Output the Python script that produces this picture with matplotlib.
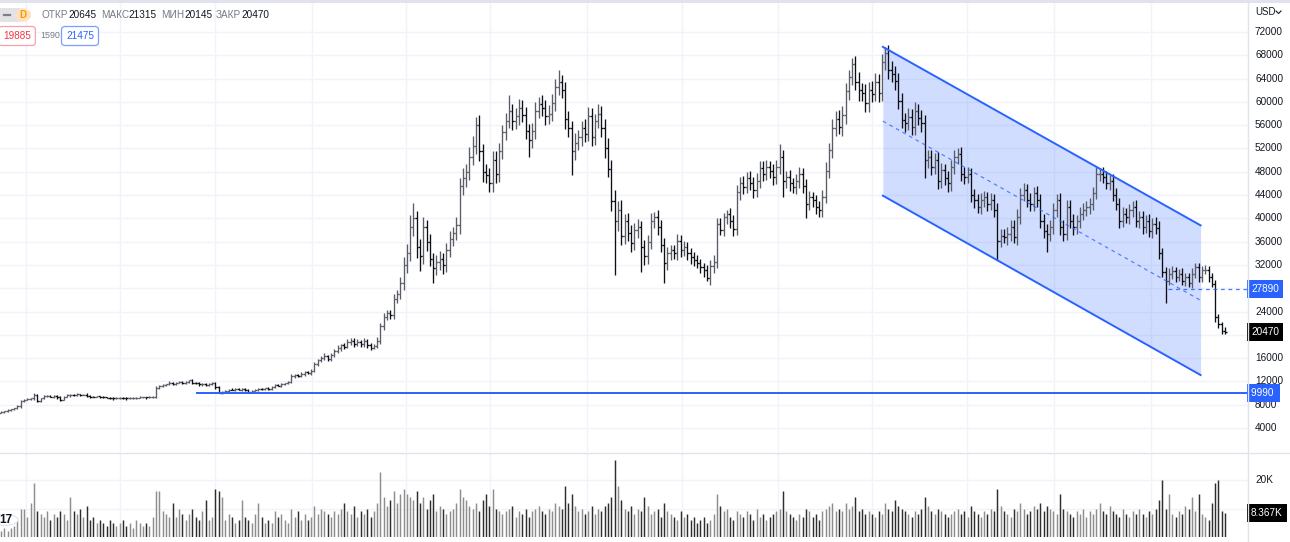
import numpy as np
import matplotlib.pyplot as plt
import matplotlib.transforms as mtransforms
from matplotlib.patches import FancyBboxPatch, Circle, Rectangle
from matplotlib.lines import Line2D

plt.rcParams['font.family'] = ['Liberation Sans', 'DejaVu Sans']

# daily closes (USD), oldest first
closes = [
    6750, 6900, 7050, 7200, 7400, 7700, 8700, 8900, 8950, 9100,
    9700, 8600, 9100, 9450, 9550, 9400, 9500, 9250, 8900, 9400,
    9600, 9700, 9650, 9800, 9700, 9750, 9500, 9400, 9350, 9450,
    9300, 9250, 9200, 9150, 9100, 9150, 9200, 9150, 9100, 9150,
    9200, 9200, 9250, 9300, 9250, 9300, 9350, 10900,
    11200, 11400, 11500, 11700, 11600, 11750, 11900, 11700, 11900, 12200,
    11800, 11700, 11500, 11600, 11400, 11550, 11650, 11000, 10100, 10250,
    10400, 10600, 10550, 10700, 10600, 10750, 10500, 10200, 10400, 10550,
    10700, 10650, 10800, 10700, 11000, 11400, 11300, 11500, 11700, 11900,
    12900, 13100, 13000, 13300, 13600, 13400, 13800, 15000, 15600, 16000,
    16300, 15900,
    16500, 17200, 17700, 18200, 18000, 18700, 19000, 18500, 18800, 18400,
    18900, 18300, 17800, 18100, 19000, 21500, 23000, 23700, 23400, 26200,
    27000, 28900,
    32000, 34000, 38500, 40000, 35000, 33500, 38500, 36000, 33000, 31500,
    32500, 33000, 32000, 34500, 36500, 37500, 38800, 45500, 47000, 48000,
    50500, 52500, 56000, 51500, 48000, 47500, 46000, 50000, 47700, 51500,
    54800, 56800, 58500, 56800, 57500, 59000, 57800, 55000, 53500, 55000,
    58500, 59700, 59000, 57500, 58000, 59800, 62500, 63500, 62000, 57000,
    55500, 51500, 53000, 54000, 55500, 54500, 57500, 54000, 56800, 58000,
    55500, 52000, 48500, 43000, 39500, 41500, 37000, 39500, 37500, 35700,
    38000, 38500, 35000, 33500, 36000, 39500, 40300, 38500, 35500, 32300,
    34000, 34500, 34000, 36200, 34500, 35100, 34000, 33400, 32800, 32300,
    31700, 31100, 29800, 31800, 32500, 39000, 38000, 40200, 40800, 39600,
    38200, 44500, 46000, 45400, 47000, 46000, 44800, 46500, 48700, 47700,
    48800, 48200, 47100, 48800, 50500, 46500, 47100, 46000, 45400, 46500,
    47700, 45500, 42500, 43600, 43100, 42000, 41400, 43700, 48200, 51700,
    55500, 57000, 55700, 57800, 61800, 64200, 66500, 63500, 62000, 61500,
    59800, 62000, 61400, 63500, 61500, 66800, 68400, 65500, 64800, 63600,
    60200, 56900, 56400, 57400, 55700, 58500, 57300, 56300, 50000, 50500,
    48800, 50000, 46500, 48300, 47000, 46000, 48800, 50500, 51000, 47700,
    47100, 47700, 44000, 43100, 42000, 43100, 43600, 42500, 43100, 41400,
    36200, 37000, 36800, 37400, 38500, 36800, 40200, 44000, 44800, 43100,
    42500, 44300, 43100, 39600, 37900, 37400, 38500, 41400, 43100, 38500,
    37400, 42000, 39600, 38500, 39600, 40800, 41400, 41900, 42500, 44300,
    47700, 47700, 47100, 46000, 46500, 44000, 42500, 39600, 40800, 40200,
    41400, 41900, 39600, 40200, 38500, 39600, 37900, 39100, 38300, 34000,
    30800, 29300, 30500, 31000, 29900, 30500, 29300, 29900, 28900, 30500,
    31600, 29900, 31100, 31100, 29900, 28800, 23000, 21800, 20645, 20470,
]
first_open = 6600

# upper / lower shadow beyond the bar body, hundreds of USD
wick_hi = [
    1, 1, 2, 1, 1, 2, 2, 1, 2, 1, 4, 2, 1, 2, 1, 2, 1, 1, 2, 1,
    2, 1, 1, 2, 1, 1, 2, 1, 1, 1, 1, 2, 1, 1, 1, 1, 1, 2, 1, 1,
    1, 1, 2, 1, 1, 2, 1, 3,
    2, 2, 1, 3, 2, 1, 2, 2, 1, 1, 2, 1, 2, 1, 2, 1, 2, 2, 3, 1,
    2, 1, 2, 1, 2, 1, 2, 2, 1, 2, 1, 2, 1, 2, 2, 1, 2, 2, 1, 2,
    3, 2, 2, 3, 2, 2, 3, 4, 3, 3, 5, 3,
    4, 4, 5, 3, 4, 6, 5, 4, 5, 4, 5, 4, 3, 4, 6, 5, 8, 6, 5, 9,
    7, 10,
    14, 16, 20, 26, 12, 15, 18, 12, 14, 11, 12, 14, 10, 12, 13, 11, 14, 15, 16, 14,
    18, 16, 14, 18, 12, 13, 12, 15, 16, 14, 12, 13, 26, 12, 14, 15, 14, 13, 12, 13,
    14, 12, 15, 13, 14, 16, 14, 19, 12, 15,
    14, 13, 16, 12, 13, 15, 16, 14, 12, 17, 13, 15, 18, 16, 18, 14, 16, 12, 14, 13,
    12, 14, 11, 13, 12, 14, 8, 12, 13, 11, 10, 9, 10, 12, 9, 10, 8, 9, 8, 9,
    8, 7, 9, 10, 12, 10, 11, 7, 7, 9,
    10, 12, 11, 12, 10, 12, 11, 13, 12, 11, 12, 10, 11, 12, 23, 13, 11, 12, 10, 11,
    12, 10, 12, 11, 10, 9, 10, 12, 14, 13, 15, 14, 16, 15, 14, 12, 10, 14, 16, 13,
    15, 14, 16, 14, 13, 15, 10, 14, 16, 14,
    13, 14, 12, 15, 13, 14, 12, 13, 14, 12, 13, 12, 14, 12, 11, 12, 13, 12, 10, 12,
    11, 12, 10, 11, 10, 12, 11, 10, 12, 11, 13, 12, 11, 12, 13, 12, 14, 13, 12, 11,
    12, 11, 12, 10, 11, 12, 13, 12, 11, 13,
    12, 11, 12, 11, 10, 11, 12, 11, 10, 11, 12, 9, 12, 11, 10, 11, 12, 10, 11, 10,
    11, 10, 12, 10, 11, 10, 11, 10, 11, 12, 9, 8, 9, 8, 7, 8, 9, 7, 8, 9,
    7, 8, 7, 9, 8, 7, 6, 5, 4, 7,
]
wick_lo = [
    1, 1, 1, 2, 1, 1, 3, 2, 1, 2, 2, 2, 2, 1, 2, 1, 2, 2, 2, 1,
    1, 2, 1, 1, 2, 1, 1, 2, 1, 1, 2, 1, 1, 1, 2, 1, 1, 1, 2, 1,
    1, 2, 1, 1, 2, 1, 1, 2,
    2, 1, 2, 1, 2, 2, 1, 2, 1, 2, 2, 1, 2, 2, 1, 2, 1, 3, 1, 2,
    1, 2, 1, 2, 1, 2, 2, 1, 2, 1, 2, 1, 2, 1, 2, 2, 1, 2, 1, 2,
    2, 3, 2, 2, 3, 2, 3, 2, 3, 3, 3, 4,
    4, 3, 4, 5, 4, 3, 5, 6, 4, 5, 4, 5, 4, 3, 4, 5, 6, 5, 7, 6,
    8, 9,
    12, 14, 13, 15, 18, 25, 14, 16, 12, 26, 12, 14, 15, 12, 11, 13, 12, 14, 15, 16,
    14, 13, 15, 16, 17, 15, 15, 14, 16, 15, 13, 14, 12, 16, 14, 15, 13, 14, 30, 14,
    13, 12, 14, 15, 13, 12, 13, 14, 13, 16,
    15, 41, 14, 13, 15, 14, 13, 16, 14, 13, 15, 16, 14, 18, 93, 16, 15, 14, 13, 14,
    12, 13, 42, 15, 14, 13, 12, 14, 13, 34, 12, 11, 10, 12, 11, 10, 11, 12, 10, 9,
    10, 11, 5, 12, 11, 10, 9, 10, 11, 12,
    12, 11, 13, 12, 11, 12, 13, 11, 12, 13, 11, 12, 13, 12, 11, 28, 12, 13, 11, 12,
    13, 12, 25, 11, 12, 13, 11, 12, 10, 12, 13, 14, 12, 15, 16, 14, 13, 15, 18, 14,
    15, 16, 14, 13, 15, 14, 13, 15, 14, 16,
    14, 13, 15, 12, 14, 13, 12, 14, 30, 13, 13, 12, 14, 13, 12, 14, 13, 12, 11, 13,
    12, 11, 12, 13, 11, 12, 11, 12, 10, 12, 34, 12, 11, 13, 12, 11, 13, 12, 11, 12,
    13, 12, 11, 12, 13, 32, 12, 11, 12, 13,
    12, 11, 12, 13, 11, 12, 11, 10, 12, 11, 10, 12, 11, 10, 12, 11, 10, 12, 11, 10,
    12, 11, 10, 12, 11, 10, 11, 12, 10, 9, 8, 39, 8, 9, 8, 7, 8, 9, 7, 8,
    7, 8, 9, 7, 8, 6, 8, 6, 5, 3,
]
# volume, thousands of contracts
volumes = [
    2, 3, 2, 3, 4, 6, 10, 10, 7, 12, 19, 9, 8, 7, 9, 6, 8, 7, 9, 8,
    6, 14, 9, 8, 10, 7, 11, 6, 7, 5, 6, 5, 4, 6, 5, 4, 5, 6, 4, 5,
    3, 6, 5, 4, 5, 4, 7, 16,
    16, 9, 8, 7, 12, 7, 10, 8, 6, 8, 10, 7, 6, 9, 13, 6, 7, 17, 16, 14,
    6, 8, 7, 5, 6, 13, 7, 6, 5, 8, 12, 7, 5, 6, 5, 9, 7, 8, 6, 5,
    10, 7, 9, 6, 8, 6, 7, 11, 8, 10, 9, 8,
    7, 9, 8, 10, 12, 9, 8, 11, 7, 9, 8, 10, 7, 9, 12, 23, 14, 11, 13, 16,
    12, 15,
    17, 15, 14, 13, 16, 12, 14, 10, 13, 15, 9, 11, 10, 8, 9, 10, 12, 17, 14, 13,
    11, 10, 12, 9, 13, 15, 11, 17, 10, 9, 8, 9, 10, 11, 7, 9, 8, 10, 7, 9,
    10, 11, 9, 8, 10, 9, 12, 11, 10, 18,
    12, 15, 11, 9, 10, 8, 9, 11, 8, 10, 9, 11, 12, 14, 27, 18, 13, 10, 9, 11,
    8, 10, 9, 14, 11, 8, 9, 10, 7, 12, 9, 8, 7, 6, 9, 7, 8, 6, 7, 5,
    6, 7, 5, 6, 8, 15, 11, 9, 10, 7,
    6, 9, 8, 7, 9, 8, 6, 10, 7, 8, 6, 7, 8, 9, 10, 16, 9, 8, 7, 6,
    8, 7, 10, 9, 7, 8, 6, 9, 10, 11, 12, 9, 10, 9, 12, 10, 11, 14, 9, 10,
    8, 9, 8, 7, 9, 8, 12, 10, 9, 13,
    11, 10, 9, 8, 7, 9, 8, 10, 14, 11, 9, 8, 10, 9, 8, 7, 8, 9, 10, 8,
    9, 7, 11, 9, 8, 7, 9, 8, 10, 9, 17, 11, 9, 8, 7, 10, 9, 12, 10, 8,
    9, 11, 10, 12, 9, 11, 10, 9, 8, 15,
    10, 9, 8, 7, 9, 8, 10, 7, 9, 8, 10, 12, 9, 8, 11, 9, 8, 7, 10, 8,
    7, 9, 8, 10, 8, 7, 9, 8, 10, 13, 20, 10, 15, 8, 7, 9, 8, 11, 10, 14,
    9, 15, 8, 7, 6, 12, 19, 20, 9, 8.367,
]

price_ticks = list(range(4000, 76000, 4000))
hidden_ticks = [20000, 28000]          # covered by the price tags
vol_labels = [20]                       # 10K sits under the volume tag
month_bars = [7.5, 36, 64.8, 94.2, 122.7, 148.2, 177.6, 206.4, 235.5, 263.9, 292.7, 319.1, 348.5]

channel_bars = [267.3, 363.6]
channel_top = [69450, 38800]
channel_mid = [56700, 25930]
channel_bot = [43900, 13100]
support_level, support_from = 9990, 59.4
prev_close, prev_close_from = 27890, 353.6

legend_labels = ['ОТКР', 'МАКС', 'МИН', 'ЗАКР']
legend_values = ['20645', '21315', '20145', '20470']

DARK, GRAY, BLUE, RED = '#131722', '#787b86', '#2962ff', '#f23645'
GRID = '#f0f3fa'

n = len(closes)
idx = np.arange(n)
c = np.array(closes, float)
o = np.array([first_open] + closes[:-1], float)
hi = np.maximum(o, c) + np.array(wick_hi) * 100
lo = np.minimum(o, c) - np.array(wick_lo) * 100
down = c < o

W, H = 1290, 542
AX_R = 1248
fig = plt.figure(figsize=(W / 100, H / 100), dpi=100)


def rect(x0, y0, x1, y1):
    return [x0 / W, 1 - y1 / H, (x1 - x0) / W, (y1 - y0) / H]


ax = fig.add_axes(rect(0, 0, AX_R, 452))
axv = fig.add_axes(rect(0, 453, AX_R, 537))
step = 1224 / (n - 1)
xlim = (-1 / step, (AX_R - 1) / step)
for a in (ax, axv):
    a.set_xlim(*xlim)
    a.set_xticks([])
    a.set_yticks([])
    for s in a.spines.values():
        s.set_visible(False)
    a.patch.set_alpha(0)
    for m in month_bars:
        a.axvline(m, color=GRID, lw=1, zorder=0)

ax.set_ylim(-114, 77494)
axv.set_ylim(0, 29.5)
for p in price_ticks:
    ax.axhline(p, color=GRID, lw=1, zorder=0)
for v in (10, 20):
    axv.axhline(v, color=GRID, lw=1, zorder=0)

# OHLC bars
cols = np.where(down, '#0c0e14', '#5a5d66')
ax.vlines(idx, lo, hi, colors=cols, lw=0.95, zorder=3)
ax.hlines(o, idx - 0.5, idx, colors=cols, lw=0.95, zorder=3)
ax.hlines(c, idx, idx + 0.5, colors=cols, lw=0.95, zorder=3)

# volume
vcols = np.where(down, '#2e2e2e', '#8e8e8e')
axv.vlines(idx, 0, volumes, colors=vcols, lw=1.05)

# regression channel
ax.fill_between(channel_bars, channel_bot, channel_top, color=BLUE, alpha=0.21, lw=0, zorder=1)
ax.plot(channel_bars, channel_top, color=BLUE, lw=1.4, zorder=4)
ax.plot(channel_bars, channel_bot, color=BLUE, lw=1.4, zorder=4)
ax.plot(channel_bars, channel_mid, color=BLUE, lw=0.9, ls=(0, (3, 3)), alpha=0.75, zorder=4)

# horizontal levels
ax.plot([support_from, xlim[1]], [support_level] * 2, color=BLUE, lw=1.4, zorder=4)
ax.plot([prev_close_from, xlim[1]], [prev_close] * 2, color=BLUE, lw=0.9,
        ls=(0, (3, 3)), alpha=0.85, zorder=4)

# right price scale
fig.add_artist(Line2D([AX_R / W] * 2, [0, 1], color='#e0e3eb', lw=1))
fig.add_artist(Line2D([0, 1], [1 - 452.5 / H] * 2, color='#e0e3eb', lw=1))
fig.add_artist(Rectangle((0, 1 - 3 / H), 1, 3 / H, color='#e0e3eb', lw=0))

tr = mtransforms.blended_transform_factory(ax.transAxes, ax.transData)
trv = mtransforms.blended_transform_factory(axv.transAxes, axv.transData)
FS = 7.2
lx = 1255 / AX_R
for p in price_ticks:
    if p in hidden_ticks:
        continue
    ax.text(lx, p, str(p), transform=tr, fontsize=FS, color=DARK, va='center', ha='left', clip_on=False)
for v in vol_labels:
    axv.text(lx, v, f'{v}K', transform=trv, fontsize=FS, color=DARK, va='center', ha='left', clip_on=False)
fig.text(1255 / W, 1 - 12 / H, 'USD', fontsize=FS - 0.3, color=DARK, va='center', ha='left')
fig.add_artist(Line2D([1276 / W, 1278.5 / W, 1281 / W], [1 - 11 / H, 1 - 13.5 / H, 1 - 11 / H],
                      color=DARK, lw=0.8))


def tag(a, trans, y, s, fc):
    a.text(1251 / AX_R, y, s, transform=trans, fontsize=FS, color='white', va='center', ha='left',
           clip_on=False, zorder=10,
           bbox=dict(boxstyle='square,pad=0.42', fc=fc, ec='none'))


tag(ax, tr, prev_close, str(prev_close), BLUE)
tag(ax, tr, closes[-1], str(closes[-1]), 'black')
tag(ax, tr, support_level, str(support_level) + ' ', BLUE)
tag(axv, trv, volumes[-1], f'{volumes[-1]:.3f}K', 'black')

# top-left legend
renderer = fig.canvas.get_renderer()


def put(x, y, s, **kw):
    t = fig.text(x / W, 1 - y / H, s, va='center', ha='left', fontsize=FS, **kw)
    return x + t.get_window_extent(renderer).width


fig.add_artist(FancyBboxPatch((-12 / W, 1 - 22 / H), 43 / W, 14 / H,
                              boxstyle='round,pad=0,rounding_size=0.012', fc='#e3e3e6', ec='none'))
fig.add_artist(FancyBboxPatch((16 / W, 1 - 22 / H), 15 / W, 14 / H,
                              boxstyle='round,pad=0,rounding_size=0.012', fc='#ffe2bd', ec='none'))
fig.add_artist(Line2D([4 / W, 10 / W], [1 - 15 / H] * 2, color='#7e7e84', lw=1.6))
put(19, 15, 'D', color='#ff9800', fontweight='bold')
x = 42
for lab, val in zip(legend_labels, legend_values):
    x = put(x, 15, lab, color=GRAY)
    x = put(x, 15, val, color=DARK) + 4

fig.text(3 / W, 1 - 36 / H, '19885', fontsize=FS, color=RED, va='center', ha='left',
         bbox=dict(boxstyle='round,pad=0.45,rounding_size=0.35', fc='white', ec='#f7a1a8', lw=0.9))
fig.text(40 / W, 1 - 36 / H, '1590', fontsize=FS - 0.8, color=GRAY, va='center', ha='left')
fig.text(66 / W, 1 - 36 / H, '21475', fontsize=FS, color=BLUE, va='center', ha='left',
         bbox=dict(boxstyle='round,pad=0.45,rounding_size=0.35', fc='white', ec='#7c9cff', lw=0.9))

# TradingView badge, bottom left
fig.add_artist(Circle((5 / W, 1 - 520 / H), 13 / W, fc='white', ec='#e0e3eb', lw=0.8,
                      transform=fig.transFigure, zorder=5))
fig.text(-1 / W, 1 - 520 / H, '17', fontsize=8.5, fontweight='bold', color=DARK, va='center', ha='left',
         zorder=6)

fig.savefig('out.png', dpi=100, facecolor='white')
